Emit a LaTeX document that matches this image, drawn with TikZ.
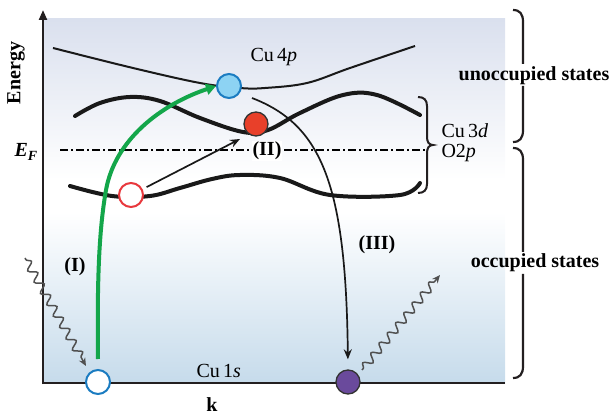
\documentclass[tikz,border=0pt]{standalone}
\usepackage{fontspec}
\setmainfont{Liberation Serif}
\usetikzlibrary{arrows.meta,decorations.pathmorphing}
\definecolor{bgtop}{HTML}{DAE0EE}
\definecolor{bgbot}{HTML}{C6DBEB}
\definecolor{axiscol}{HTML}{231F20}
\definecolor{bluefill}{HTML}{8DD3F3}
\definecolor{blueline}{HTML}{1B7CC1}
\definecolor{redfill}{HTML}{E8402A}
\definecolor{redline}{HTML}{E8383D}
\definecolor{purplefill}{HTML}{6A4A9C}
\definecolor{greenarrow}{HTML}{13A64A}
\definecolor{wavecol}{HTML}{505050}
\begin{document}
\begin{tikzpicture}[x=1pt,y=-1pt,
  font=\fontsize{20}{24}\selectfont,
  axis/.style={line width=2.2pt,draw=axiscol},
  band/.style={line width=4pt,draw=black!90,line join=round,line cap=round},
  thinband/.style={line width=2pt,draw=black!90},
  ball/.style={circle,minimum size=24pt,inner sep=0pt,line width=1.3pt,draw=black!80},
  hole/.style={circle,minimum size=24pt,inner sep=0pt,line width=2pt,fill=white,draw=#1},
  thinarrow/.style={line width=1.7pt,draw=black!90,-{Stealth[length=10pt,width=8pt]}},
  greenpath/.style={line width=4pt,draw=greenarrow,-{Triangle[length=10pt,width=11pt]}},
  wave/.style={line width=1.5pt,draw=wavecol,-{Stealth[length=8pt,width=7pt]},
    decorate,decoration={snake,amplitude=4pt,segment length=13pt,post length=7pt,pre length=2pt}},
  brace/.style={line width=2.2pt,draw=axiscol},
  lbl/.style={font=\fontsize{20}{24}\selectfont\bfseries},
  txt/.style={font=\fontsize{20}{24}\selectfont}]
\useasboundingbox (0,0) rectangle (616,414);
% background
\shade[top color=bgtop,bottom color=white] (44,19) rectangle (505,180);
\fill[white] (44,180) rectangle (505,212);
\shade[top color=white,bottom color=bgbot] (44,212) rectangle (505,383);
% axes
\coordinate (origin) at (43,384);
\coordinate (ytop) at (43,10);
\coordinate (xend) at (505,383);
\draw[axis,-{Triangle[length=10pt,width=8pt]}] (origin) -- (ytop);
\draw[axis] (42,383) -- (xend);
\node[lbl,rotate=90] (energy) at (16,73) {Energy};
\node[lbl,anchor=base] (kk) at (212,411) {k};
\node[anchor=base west,font=\fontsize{20}{24}\selectfont\bfseries\itshape] (ef) at (11,157) {E\raisebox{-4pt}{\fontsize{14}{16}\selectfont F}};
% Fermi level
\draw[line width=1.3pt,dash pattern=on 8pt off 3pt on 2pt off 3pt] (60,150) -- (425,150);
% bands
\draw[thinband] plot[smooth,tension=0.6] coordinates {(53,48) (133,68) (200,83) (240,88) (265,88) (307,83) (350,68) (415,46)};
\draw[band] plot[smooth,tension=0.6] coordinates {(75,116) (100,103) (130,97) (160,101) (200,118) (243,132) (268,130) (300,113) (343,95) (377,95) (420,115)};
\draw[band] plot[smooth,tension=0.6] coordinates {(70,186) (112,196) (150,196) (180,188) (212,179) (240,175) (280,178) (330,195) (400,195) (420,183)};
% braces
\draw[brace] (513,10) .. controls (520,10) and (523,14) .. (523,22) -- (523,64);
\draw[brace] (523,86) -- (523,130) .. controls (523,138) and (520,142) .. (513,142);
\draw[brace] (513,148) .. controls (520,148) and (523,152) .. (523,160) -- (523,252);
\draw[brace] (523,274) -- (523,366) .. controls (523,374) and (520,378) .. (513,378);
\draw[line width=2pt,draw=axiscol] (418,97) .. controls (424,97) and (427,100) .. (427,106) -- (427,137)
  .. controls (427,142) and (429,145) .. (433,145) .. controls (429,145) and (427,148) .. (427,153)
  -- (427,184) .. controls (427,190) and (424,193) .. (418,193);
% state labels
\node[lbl,anchor=base] (unocc) at (534,81) {unoccupied states};
\node[lbl,anchor=base] (occ) at (535,268) {occupied states};
\node[txt,anchor=base west] (cu3d) at (438,138) {Cu\,3\textit{d}};
\node[txt,anchor=base west] (o2p) at (438,158) {O2\textit{p}};
\node[txt,anchor=base west] (cu4p) at (247,62) {Cu\,4\textit{p}};
\node[txt,anchor=base west] (cu1s) at (193,377) {Cu\,1\textit{s}};
% particles
\node[hole=blueline] (b1) at (98,382) {};
\node[ball,fill=purplefill] (pu) at (348,382) {};
\node[ball,fill=bluefill,draw=blueline,line width=2pt] (c4p) at (229,86) {};
\node[ball,fill=redfill] (rd) at (256,124) {};
\node[hole=redline] (rh) at (131,195) {};
% process labels
\node[lbl] (p1) at (75,267) {(I)};
\node[lbl,fill=white,inner sep=1pt] (p2) at (267,151) {(II)};
\node[lbl] (p3) at (377,245) {(III)};
% transitions
\draw[greenpath] ([yshift=10pt]b1.north) .. controls (97,280) and (99,230) .. (106,190)
  .. controls (115,140) and (160,105) .. (c4p.west);
\coordinate (iiend) at (240,139);
\draw[thinarrow] ([shift={(4,-2)}]rh.27) -- (iiend);
\coordinate (iiistart) at (252,98);
\draw[thinarrow,shorten >=10pt] (iiistart) .. controls (322,125) and (346,185) .. (pu.north);
% photons
\coordinate (win) at (25,258);
\coordinate (wout) at (440,275);
\draw[wave] (win) -- ([shift={(-12,-16)}]b1.center);
\draw[wave] ([shift={(14,-12)}]pu.center) -- (wout);
\end{tikzpicture}
\end{document}
